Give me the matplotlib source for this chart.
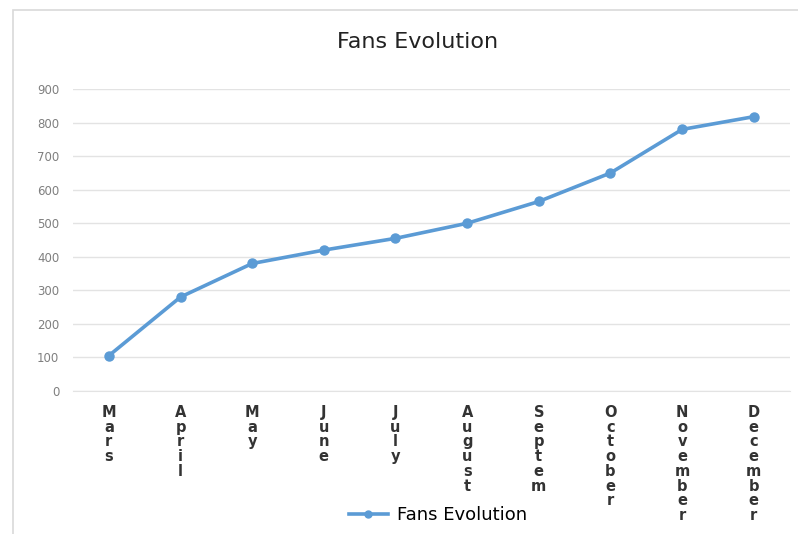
import matplotlib.pyplot as plt
from matplotlib.patches import Rectangle
from matplotlib.lines import Line2D

# Data
months = ["Mars", "April", "May", "June", "July", "August",
          "Septem", "October", "November", "December"]
fans = [105, 280, 380, 420, 455, 500, 565, 650, 780, 818]
y_ticks = [0, 100, 200, 300, 400, 500, 600, 700, 800, 900]

line_color = "#5B9BD5"

fig = plt.figure(figsize=(7.98, 5.34), dpi=100)
fig.patch.set_facecolor("white")

# light chart-area border like the Excel frame
fig.add_artist(Rectangle((13 / 798, -0.01), 1.0, 1 - 10 / 534 + 0.01,
                         transform=fig.transFigure, fill=False,
                         edgecolor="#D9D9D9", linewidth=1.2))

ax = fig.add_axes([0.0915, 0.268, 0.898, 0.565])
x = list(range(len(months)))
ax.plot(x, fans, color=line_color, linewidth=2.6, marker="o",
        markersize=6.5, zorder=3)

ax.set_xlim(-0.5, len(months) - 0.5)
ax.set_ylim(0, 900)
ax.set_yticks(y_ticks)
ax.set_yticklabels([str(v) for v in y_ticks], color="#7F7F7F", fontsize=8.5)
ax.yaxis.grid(True, color="#E3E3E3", linewidth=1)
ax.set_axisbelow(True)

# stacked, upright letters for x labels
ax.set_xticks(x)
ax.set_xticklabels(["\n".join(m) for m in months], fontsize=10.5,
                   fontweight="bold", color="#333333", linespacing=0.98,
                   va="top")
ax.tick_params(axis="x", length=0, pad=10)
ax.tick_params(axis="y", length=0, pad=10)

for side in ["top", "right", "left"]:
    ax.spines[side].set_visible(False)
ax.spines["bottom"].set_color("#E3E3E3")

fig.text(418 / 798, 1 - 42 / 534, "Fans Evolution", ha="center",
         va="center", fontsize=16, color="#222222")

handle = Line2D([], [], color=line_color, linewidth=2.6, marker="o",
                markersize=5)
fig.legend([handle], ["Fans Evolution"], loc="center",
           bbox_to_anchor=(438 / 798, 1 - 515 / 534), frameon=False,
           fontsize=13, handlelength=2.2, handletextpad=0.5)

fig.savefig("out.png", dpi=100)
